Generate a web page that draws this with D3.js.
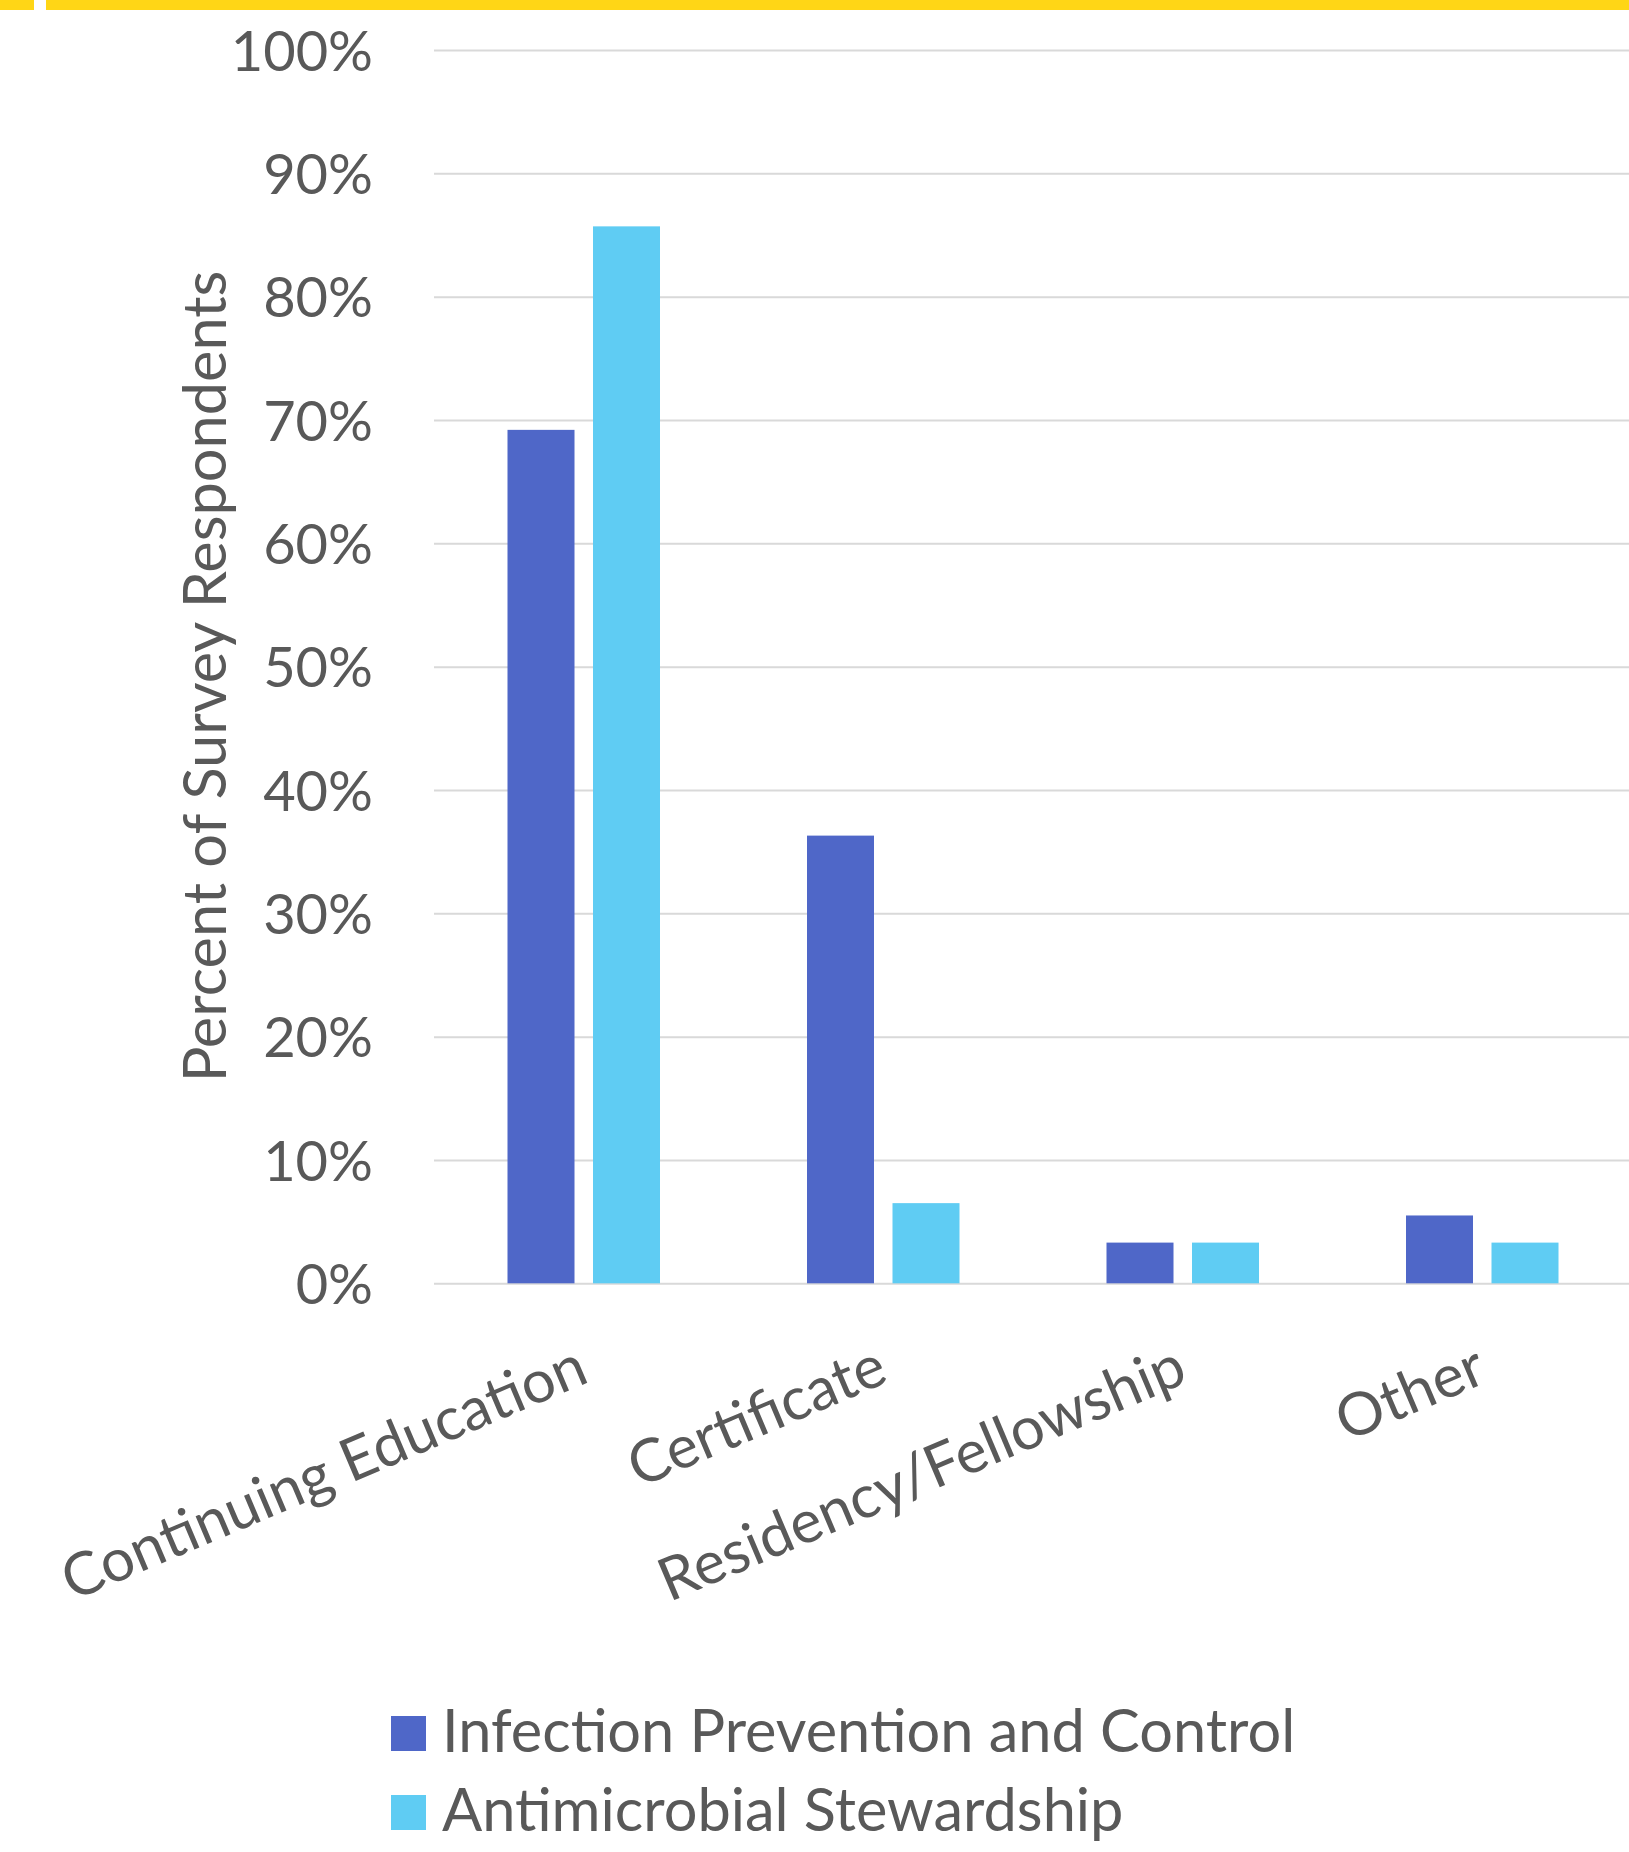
<!DOCTYPE html>
<html>
<head>
<meta charset="utf-8">
<script src="https://cdn.jsdelivr.net/npm/d3@7"></script>
<style>
  body { margin: 0; background: #fff; }
  svg { display: block; font-family: Lato, "Open Sans", sans-serif; }
</style>
</head>
<body>
<div id="viz"></div>
<script>
const categories = ['Continuing Education', 'Certificate', 'Residency/Fellowship', 'Other'];
const seriesNames = ['Infection Prevention and Control', 'Antimicrobial Stewardship'];
const infectionValues = [0.692, 0.363, 0.033, 0.055];
const stewardshipValues = [0.857, 0.065, 0.033, 0.033];
const yTicks = [0, 0.1, 0.2, 0.3, 0.4, 0.5, 0.6, 0.7, 0.8, 0.9, 1.0];

const canvasWidth = 1629;
const canvasHeight = 1852;
const plot = { left: 434, right: 1632, top: 50, bottom: 1283.3 };
const tickFontSize = 56;
const fontSize = 59.5;
const textColor = '#595959';
const gridColor = '#d9d9d9';

const rows = categories.map((c, i) => ({
  category: c,
  values: [infectionValues[i], stewardshipValues[i]]
}));

const colors = d3.scaleOrdinal()
  .domain(seriesNames)
  .range(['#4f67c8', '#5fccf3']);

const x0 = d3.scaleBand()
  .domain(categories)
  .range([plot.left, plot.right])
  .padding(0);

const groupWidth = 152.5;
const x1 = d3.scaleBand()
  .domain(seriesNames)
  .range([-groupWidth / 2, groupWidth / 2])
  .paddingInner(0.2164);

const y = d3.scaleLinear()
  .domain([0, 1])
  .range([plot.bottom, plot.top]);

const canvas = d3.select('#viz')
  .append('svg')
  .attr('width', canvasWidth)
  .attr('height', canvasHeight)
  .attr('viewBox', `0 0 ${canvasWidth} ${canvasHeight}`);

// yellow strip along the top edge
canvas.append('rect').attr('x', 0).attr('y', 0).attr('width', 34).attr('height', 10).attr('fill', '#ffd616');
canvas.append('rect').attr('x', 46).attr('y', 0).attr('width', canvasWidth - 46).attr('height', 10).attr('fill', '#ffd616');

// y axis with gridlines
const yAxis = canvas.append('g')
  .attr('transform', `translate(${plot.left}, 0)`)
  .call(d3.axisLeft(y)
    .tickValues(yTicks)
    .tickFormat(d3.format('.0%'))
    .tickSize(-(canvasWidth - plot.left))
    .tickPadding(61));

yAxis.select('.domain').remove();
yAxis.selectAll('.tick line')
  .attr('stroke', gridColor)
  .attr('stroke-width', 2);
yAxis.selectAll('.tick text')
  .attr('dy', '0.36em')
  .attr('fill', textColor)
  .style('font-size', `${tickFontSize}px`)
  .style('font-family', 'Lato, sans-serif');

// bars
const groups = canvas.append('g')
  .selectAll('g').data(rows)
  .enter().append('g')
    .attr('transform', (d) => `translate(${x0(d.category) + x0.bandwidth() / 2}, 0)`);

groups.selectAll('rect')
  .data((d) => d.values.map((v, i) => ({ series: seriesNames[i], value: v })))
  .enter().append('rect')
    .attr('x', (d) => x1(d.series))
    .attr('y', (d) => y(d.value))
    .attr('width', x1.bandwidth())
    .attr('height', (d) => y(0) - y(d.value))
    .attr('fill', (d) => colors(d.series));

// category labels, rotated
const xAxis = canvas.append('g')
  .attr('transform', `translate(0, ${plot.bottom})`)
  .call(d3.axisBottom(x0).tickSize(0));

xAxis.select('.domain').remove();
xAxis.selectAll('.tick text')
  .attr('x', 0)
  .attr('y', 0)
  .attr('dy', 0)
  .attr('text-anchor', 'end')
  .attr('transform', 'translate(7, 98) rotate(-23)')
  .attr('fill', textColor)
  .style('font-size', `${fontSize}px`)
  .style('font-family', 'Lato, sans-serif');

// y axis title
canvas.append('text')
  .attr('transform', 'translate(226, 676.5) rotate(-90)')
  .attr('text-anchor', 'middle')
  .attr('fill', textColor)
  .style('font-size', `${fontSize}px`)
  .text('Percent of Survey Respondents');

// legend
const legend = canvas.append('g')
  .attr('transform', 'translate(391, 1716)')
  .selectAll('g').data(seriesNames)
  .enter().append('g')
    .attr('transform', (d, i) => `translate(0, ${i * 79})`);

legend.append('rect')
  .attr('width', 35)
  .attr('height', 35)
  .attr('fill', (d) => colors(d));

legend.append('text')
  .attr('x', 51)
  .attr('y', 36)
  .attr('fill', textColor)
  .style('font-size', `${fontSize}px`)
  .text((d) => d);
</script>
</body>
</html>
